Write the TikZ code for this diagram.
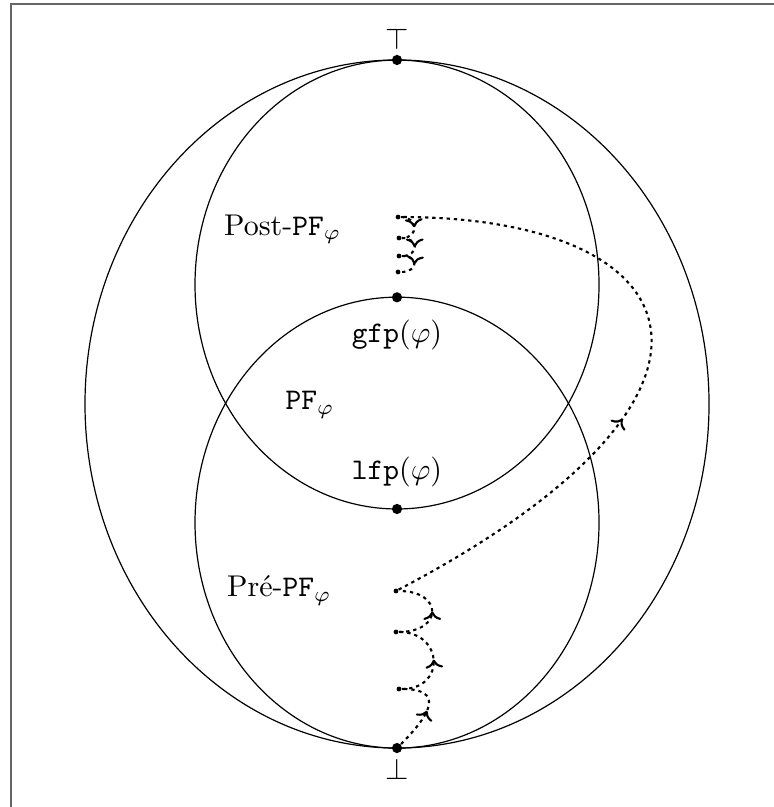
\documentclass[tikz,border=0pt]{standalone}
\usepackage{amsmath, amssymb}
\usetikzlibrary{decorations.markings, arrows.meta}

\tikzset{
    bigdot/.style={circle, fill, inner sep=0pt, minimum size=3.4pt},
    smalldot/.style={circle, fill, inner sep=0pt, minimum size=1.6pt},
    iter/.style={line width=0.7pt, dash pattern=on 1.1pt off 1.3pt, postaction={decorate},
        decoration={markings, mark=at position #1 with {\arrow{To[scale=0.9]}}}},
    iter/.default=0.5
}

\begin{document}
\begin{tikzpicture}
    \useasboundingbox (-4.652,-4.722) rectangle (4.417,4.734);
    % frame
    \draw[black!60, line width=0.6pt] (-4.523,-4.722) -- (-4.523,4.687) -- (4.417,4.687);
    % the three sets
    \draw (0,0) ellipse [x radius=3.656, y radius=4.031];
    \draw (0,1.40) ellipse [x radius=2.367, y radius=2.630];
    \draw (0,-1.39) ellipse [x radius=2.367, y radius=2.642];
    % points
    \node[bigdot, label={[label distance=-2pt]above:$\top$}] (top) at (0,4.031) {};
    \node[bigdot, label={[label distance=-2pt]below:$\bot$}] (bot) at (0,-4.031) {};
    \node[bigdot] (gfp) at (0,1.25) {};
    \node[bigdot] (lfp) at (0,-1.23) {};
    \node[smalldot] (post1) at (0.012,2.191) {};
    \node[smalldot] (post2) at (0.023,1.945) {};
    \node[smalldot] (post3) at (0.023,1.734) {};
    \node[smalldot] (post4) at (0.012,1.547) {};
    \node[smalldot] (pre1) at (-0.012,-2.191) {};
    \node[smalldot] (pre2) at (-0.012,-2.671) {};
    \node[smalldot] (pre3) at (0.023,-3.339) {};
    % labels
    \node[anchor=base] (postlbl) at (-1.34,1.98) {Post-\texttt{PF}$_\varphi$};
    \node[anchor=base] (gfplbl) at (0,0.715) {$\mathtt{gfp}(\varphi)$};
    \node[anchor=base] (pflbl) at (-1.02,-0.07) {$\mathtt{PF}_\varphi$};
    \node[anchor=base] (lfplbl) at (0,-0.89) {$\mathtt{lfp}(\varphi)$};
    \node[anchor=base] (prelbl) at (-1.38,-2.26) {Pré-\texttt{PF}$_\varphi$};
    % iterations
    \draw[iter] (bot) to[out=45, in=0, distance=0.5cm] (pre3);
    \draw[iter] (pre3) to[out=0, in=0, distance=0.52cm] (pre2);
    \draw[iter] (pre2) to[out=0, in=0, distance=0.52cm] (pre1);
    \draw[iter=0.42] (pre1) .. controls (4.39,0.12) and (3.52,2.19) .. (post1);
    \draw[iter] (post1) to[out=0, in=0, distance=0.2cm] (post2);
    \draw[iter] (post2) to[out=0, in=0, distance=0.2cm] (post3);
    \draw[iter] (post3) to[out=0, in=0, distance=0.2cm] (post4);
\end{tikzpicture}
\end{document}
